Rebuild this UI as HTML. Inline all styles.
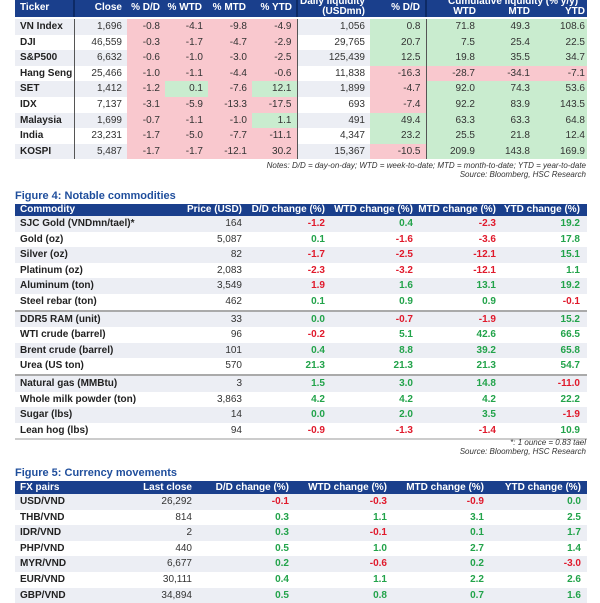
<!DOCTYPE html>
<html><head><meta charset="utf-8"><style>
*{margin:0;padding:0;box-sizing:border-box}
body{width:600px;height:600px;background:#fff;font-family:"Liberation Sans",Arial,sans-serif;font-size:10px;color:#333;position:relative;overflow:hidden}
table{position:absolute;border-collapse:collapse;table-layout:fixed}
td,th{white-space:nowrap;overflow:hidden;text-align:right;padding:0 5px 0 0;line-height:15.6px;height:15.6px}
th{background:#1a3f8c;color:#fff;font-weight:bold;height:12px;line-height:12px}
td.n,th.n{text-align:left;padding-left:5px;font-weight:bold;color:#222}
th.n{color:#fff}
tr.g td.s{background:#eceef4}
.p{background:#f9c8ce}.q{background:#c9eccf}
.r{color:#e0192b;font-weight:bold}.gr{color:#22a34a;font-weight:bold}
.vl{border-right:1.5px solid #555}
.t{position:absolute;left:15px;color:#1f4e9c;font-weight:bold;font-size:11px}
.note{position:absolute;right:14px;font-style:italic;font-size:8px;color:#333}
tr.div td{border-top:2px solid #aaa}
tr.last td{border-bottom:2px solid #ccc}
.hb{position:absolute;left:15px;top:0;width:572px;height:17px;background:#1a3f8c}
.h{position:absolute;color:#fff;font-weight:bold;font-size:10px;line-height:10px;white-space:nowrap}
.hv{position:absolute;top:0;height:17px;width:1.5px;background:#0d2a66}
</style></head><body>

<div class="hb"></div>
<div class="hv" style="left:73px"></div>
<div class="hv" style="left:296px"></div>
<div class="hv" style="left:425px"></div>
<div class="h" style="left:20px;top:3px">Ticker</div>
<div class="h" style="right:478px;top:3px">Close</div>
<div class="h" style="right:440px;top:3px">% D/D</div>
<div class="h" style="right:398px;top:3px">% WTD</div>
<div class="h" style="right:354px;top:3px">% MTD</div>
<div class="h" style="right:308px;top:3px">% YTD</div>
<div class="h" style="right:235px;top:-3px">Daily liquidity</div>
<div class="h" style="right:235px;top:7px">(USDmn)</div>
<div class="h" style="right:180px;top:3px">% D/D</div>
<div class="h" style="left:448px;top:-3px">Cumulative liquidity (% y/y)</div>
<div class="h" style="right:124px;top:7px">WTD</div>
<div class="h" style="right:70px;top:7px">MTD</div>
<div class="h" style="right:15px;top:7px">YTD</div>

<table style="left:15px;top:19px;width:572px">
<colgroup><col style="width:59px"><col style="width:53px"><col style="width:38px"><col style="width:43px"><col style="width:44px"><col style="width:45px"><col style="width:73px"><col style="width:56px"><col style="width:54px"><col style="width:55px"><col style="width:52px"></colgroup>
<tr class="g"><td class="n s vl">VN Index</td><td class="s">1,696</td><td class="p">-0.8</td><td class="p">-4.1</td><td class="p">-9.8</td><td class="p vl">-4.9</td><td class="s">1,056</td><td class="q vl">0.8</td><td class="q">71.8</td><td class="q">49.3</td><td class="q" style="padding-right:2px">108.6</td></tr>
<tr><td class="n s vl">DJI</td><td class="s">46,559</td><td class="p">-0.3</td><td class="p">-1.7</td><td class="p">-4.7</td><td class="p vl">-2.9</td><td class="s">29,765</td><td class="q vl">20.7</td><td class="q">7.5</td><td class="q">25.4</td><td class="q" style="padding-right:2px">22.5</td></tr>
<tr class="g"><td class="n s vl">S&amp;P500</td><td class="s">6,632</td><td class="p">-0.6</td><td class="p">-1.0</td><td class="p">-3.0</td><td class="p vl">-2.5</td><td class="s">125,439</td><td class="q vl">12.5</td><td class="q">19.8</td><td class="q">35.5</td><td class="q" style="padding-right:2px">34.7</td></tr>
<tr><td class="n s vl">Hang Seng</td><td class="s">25,466</td><td class="p">-1.0</td><td class="p">-1.1</td><td class="p">-4.4</td><td class="p vl">-0.6</td><td class="s">11,838</td><td class="p vl">-16.3</td><td class="p">-28.7</td><td class="p">-34.1</td><td class="p" style="padding-right:2px">-7.1</td></tr>
<tr class="g"><td class="n s vl">SET</td><td class="s">1,412</td><td class="p">-1.2</td><td class="q">0.1</td><td class="p">-7.6</td><td class="q vl">12.1</td><td class="s">1,899</td><td class="p vl">-4.7</td><td class="q">92.0</td><td class="q">74.3</td><td class="q" style="padding-right:2px">53.6</td></tr>
<tr><td class="n s vl">IDX</td><td class="s">7,137</td><td class="p">-3.1</td><td class="p">-5.9</td><td class="p">-13.3</td><td class="p vl">-17.5</td><td class="s">693</td><td class="p vl">-7.4</td><td class="q">92.2</td><td class="q">83.9</td><td class="q" style="padding-right:2px">143.5</td></tr>
<tr class="g"><td class="n s vl">Malaysia</td><td class="s">1,699</td><td class="p">-0.7</td><td class="p">-1.1</td><td class="p">-1.0</td><td class="q vl">1.1</td><td class="s">491</td><td class="q vl">49.4</td><td class="q">63.3</td><td class="q">63.3</td><td class="q" style="padding-right:2px">64.8</td></tr>
<tr><td class="n s vl">India</td><td class="s">23,231</td><td class="p">-1.7</td><td class="p">-5.0</td><td class="p">-7.7</td><td class="p vl">-11.1</td><td class="s">4,347</td><td class="q vl">23.2</td><td class="q">25.5</td><td class="q">21.8</td><td class="q" style="padding-right:2px">12.4</td></tr>
<tr class="g"><td class="n s vl">KOSPI</td><td class="s">5,487</td><td class="p">-1.7</td><td class="p">-1.7</td><td class="p">-12.1</td><td class="p vl">30.2</td><td class="s">15,367</td><td class="p vl">-10.5</td><td class="q">209.9</td><td class="q">143.8</td><td class="q" style="padding-right:2px">169.9</td></tr>
</table>
<div class="note" style="top:161px">Notes: D/D = day-on-day; WTD = week-to-date; MTD = month-to-date; YTD = year-to-date</div>
<div class="note" style="top:170px">Source: Bloomberg, HSC Research</div>

<div class="t" style="top:190px">Figure 4: Notable commodities</div>
<table style="left:15px;top:204px;width:572px">
<colgroup><col style="width:160px"><col style="width:72px"><col style="width:83px"><col style="width:88px"><col style="width:83px"><col style="width:86px"></colgroup>
<tr><th class="n">Commodity</th><th>Price (USD)</th><th>D/D change (%)</th><th>WTD change (%)</th><th>MTD change (%)</th><th style="padding-right:7px">YTD change (%)</th></tr>
<tr class="g"><td class="n s">SJC Gold (VNDmn/tael)*</td><td class="s">164</td><td class="s r">-1.2</td><td class="s gr">0.4</td><td class="s r">-2.3</td><td class="s gr" style="padding-right:7px">19.2</td></tr>
<tr><td class="n">Gold (oz)</td><td>5,087</td><td class="gr">0.1</td><td class="r">-1.6</td><td class="r">-3.6</td><td class="gr" style="padding-right:7px">17.8</td></tr>
<tr class="g"><td class="n s">Silver (oz)</td><td class="s">82</td><td class="s r">-1.7</td><td class="s r">-2.5</td><td class="s r">-12.1</td><td class="s gr" style="padding-right:7px">15.1</td></tr>
<tr><td class="n">Platinum (oz)</td><td>2,083</td><td class="r">-2.3</td><td class="r">-3.2</td><td class="r">-12.1</td><td class="gr" style="padding-right:7px">1.1</td></tr>
<tr class="g"><td class="n s">Aluminum (ton)</td><td class="s">3,549</td><td class="s r">1.9</td><td class="s gr">1.6</td><td class="s gr">13.1</td><td class="s gr" style="padding-right:7px">19.2</td></tr>
<tr><td class="n">Steel rebar (ton)</td><td>462</td><td class="gr">0.1</td><td class="gr">0.9</td><td class="gr">0.9</td><td class="r" style="padding-right:7px">-0.1</td></tr>
<tr class="g div"><td class="n s">DDR5 RAM (unit)</td><td class="s">33</td><td class="s gr">0.0</td><td class="s r">-0.7</td><td class="s r">-1.9</td><td class="s gr" style="padding-right:7px">15.2</td></tr>
<tr><td class="n">WTI crude (barrel)</td><td>96</td><td class="r">-0.2</td><td class="gr">5.1</td><td class="gr">42.6</td><td class="gr" style="padding-right:7px">66.5</td></tr>
<tr class="g"><td class="n s">Brent crude (barrel)</td><td class="s">101</td><td class="s gr">0.4</td><td class="s gr">8.8</td><td class="s gr">39.2</td><td class="s gr" style="padding-right:7px">65.8</td></tr>
<tr><td class="n">Urea (US ton)</td><td>570</td><td class="gr">21.3</td><td class="gr">21.3</td><td class="gr">21.3</td><td class="gr" style="padding-right:7px">54.7</td></tr>
<tr class="g div"><td class="n s">Natural gas (MMBtu)</td><td class="s">3</td><td class="s gr">1.5</td><td class="s gr">3.0</td><td class="s gr">14.8</td><td class="s r" style="padding-right:7px">-11.0</td></tr>
<tr><td class="n">Whole milk powder (ton)</td><td>3,863</td><td class="gr">4.2</td><td class="gr">4.2</td><td class="gr">4.2</td><td class="gr" style="padding-right:7px">22.2</td></tr>
<tr class="g"><td class="n s">Sugar (lbs)</td><td class="s">14</td><td class="s gr">0.0</td><td class="s gr">2.0</td><td class="s gr">3.5</td><td class="s r" style="padding-right:7px">-1.9</td></tr>
<tr class="last"><td class="n">Lean hog (lbs)</td><td>94</td><td class="r">-0.9</td><td class="r">-1.3</td><td class="r">-1.4</td><td class="gr" style="padding-right:7px">10.9</td></tr>
</table>
<div class="note" style="top:438px">*: 1 ounce = 0.83 tael</div>
<div class="note" style="top:447px">Source: Bloomberg, HSC Research</div>

<div class="t" style="top:467px">Figure 5: Currency movements</div>
<table style="left:15px;top:481px;width:572px">
<colgroup><col style="width:122px"><col style="width:60px"><col style="width:97px"><col style="width:98px"><col style="width:97px"><col style="width:98px"></colgroup>
<tr><th class="n" style="height:13px">FX pairs</th><th>Last close</th><th>D/D change (%)</th><th>WTD change (%)</th><th>MTD change (%)</th><th style="padding-right:6px">YTD change (%)</th></tr>
<tr class="g"><td class="n s">USD/VND</td><td class="s">26,292</td><td class="s r">-0.1</td><td class="s r">-0.3</td><td class="s r">-0.9</td><td class="s gr" style="padding-right:6px">0.0</td></tr>
<tr><td class="n">THB/VND</td><td>814</td><td class="gr">0.3</td><td class="gr">1.1</td><td class="gr">3.1</td><td class="gr" style="padding-right:6px">2.5</td></tr>
<tr class="g"><td class="n s">IDR/VND</td><td class="s">2</td><td class="s gr">0.3</td><td class="s r">-0.1</td><td class="s gr">0.1</td><td class="s gr" style="padding-right:6px">1.7</td></tr>
<tr><td class="n">PHP/VND</td><td>440</td><td class="gr">0.5</td><td class="gr">1.0</td><td class="gr">2.7</td><td class="gr" style="padding-right:6px">1.4</td></tr>
<tr class="g"><td class="n s">MYR/VND</td><td class="s">6,677</td><td class="s gr">0.2</td><td class="s r">-0.6</td><td class="s gr">0.2</td><td class="s r" style="padding-right:6px">-3.0</td></tr>
<tr><td class="n">EUR/VND</td><td>30,111</td><td class="gr">0.4</td><td class="gr">1.1</td><td class="gr">2.2</td><td class="gr" style="padding-right:6px">2.6</td></tr>
<tr class="g"><td class="n s">GBP/VND</td><td class="s">34,894</td><td class="s gr">0.5</td><td class="s gr">0.8</td><td class="s gr">0.7</td><td class="s gr" style="padding-right:6px">1.6</td></tr>
</table>
</body></html>
